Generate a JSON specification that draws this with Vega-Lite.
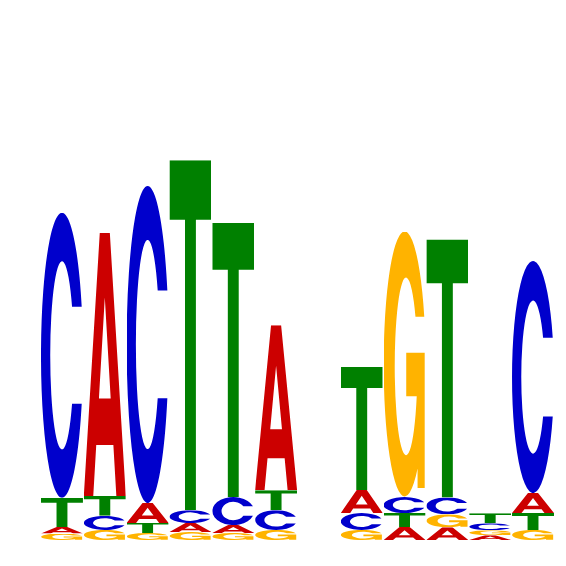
{
  "$schema": "https://vega.github.io/schema/vega-lite/v6.json",
  "width": 566,
  "height": 566,
  "padding": 0,
  "autosize": {"type": "fit", "contains": "padding"},
  "background": "white",
  "config": {"view": {"stroke": null}},
  "data": {
    "values": [
      {"pos": 1, "letter": "C", "bits": 1.5},
      {"pos": 1, "letter": "T", "bits": 0.153},
      {"pos": 1, "letter": "A", "bits": 0.035},
      {"pos": 1, "letter": "G", "bits": 0.034},
      {"pos": 2, "letter": "A", "bits": 1.384},
      {"pos": 2, "letter": "T", "bits": 0.105},
      {"pos": 2, "letter": "C", "bits": 0.074},
      {"pos": 2, "letter": "G", "bits": 0.053},
      {"pos": 3, "letter": "C", "bits": 1.668},
      {"pos": 3, "letter": "A", "bits": 0.105},
      {"pos": 3, "letter": "T", "bits": 0.053},
      {"pos": 3, "letter": "G", "bits": 0.037},
      {"pos": 4, "letter": "T", "bits": 1.842},
      {"pos": 4, "letter": "C", "bits": 0.068},
      {"pos": 4, "letter": "A", "bits": 0.047},
      {"pos": 4, "letter": "G", "bits": 0.042},
      {"pos": 5, "letter": "T", "bits": 1.442},
      {"pos": 5, "letter": "C", "bits": 0.147},
      {"pos": 5, "letter": "A", "bits": 0.042},
      {"pos": 5, "letter": "G", "bits": 0.037},
      {"pos": 6, "letter": "A", "bits": 0.868},
      {"pos": 6, "letter": "T", "bits": 0.105},
      {"pos": 6, "letter": "C", "bits": 0.104},
      {"pos": 6, "letter": "G", "bits": 0.053},
      {"pos": 8, "letter": "T", "bits": 0.647},
      {"pos": 8, "letter": "A", "bits": 0.121},
      {"pos": 8, "letter": "C", "bits": 0.089},
      {"pos": 8, "letter": "G", "bits": 0.053},
      {"pos": 9, "letter": "G", "bits": 1.395},
      {"pos": 9, "letter": "C", "bits": 0.084},
      {"pos": 9, "letter": "T", "bits": 0.074},
      {"pos": 9, "letter": "A", "bits": 0.068},
      {"pos": 10, "letter": "T", "bits": 1.358},
      {"pos": 10, "letter": "C", "bits": 0.089},
      {"pos": 10, "letter": "G", "bits": 0.068},
      {"pos": 10, "letter": "A", "bits": 0.067},
      {"pos": 11, "letter": "T", "bits": 0.053},
      {"pos": 11, "letter": "C", "bits": 0.037},
      {"pos": 11, "letter": "G", "bits": 0.026},
      {"pos": 11, "letter": "A", "bits": 0.025},
      {"pos": 12, "letter": "C", "bits": 1.221},
      {"pos": 12, "letter": "A", "bits": 0.105},
      {"pos": 12, "letter": "T", "bits": 0.089},
      {"pos": 12, "letter": "G", "bits": 0.053}
    ]
  },
  "transform": [
    {"stack": "bits", "groupby": ["pos"], "sort": [{"field": "bits", "order": "ascending"}, {"field": "letter", "order": "ascending"}], "as": ["y0", "y1"]}
  ],
  "encoding": {
    "x": {
      "field": "pos",
      "type": "ordinal",
      "axis": null,
      "scale": {"domain": [1, 2, 3, 4, 5, 6, 7, 8, 9, 10, 11, 12], "range": [41, 554], "paddingInner": 0.02, "paddingOuter": 0}
    },
    "y": {"field": "y0", "type": "quantitative", "axis": null, "scale": {"domain": [0, 2], "range": [540, 160], "zero": false, "nice": false}},
    "y2": {"field": "y1"}
  },
  "layer": [
    {
      "transform": [{"filter": "datum.letter === 'A'"}],
      "mark": {"type": "image", "aspect": false, "url": "data:image/svg+xml,%3Csvg xmlns='http://www.w3.org/2000/svg' viewBox='0 0 100 100' preserveAspectRatio='none'%3E%3Cpath fill='%23CC0000' fill-rule='evenodd' d='M0 100L38 0H62L100 100H77.5L70.4 80.6H29.6L22.5 100ZM36 63H64L50 24.5Z'/%3E%3C/svg%3E"}
    },
    {
      "transform": [{"filter": "datum.letter === 'C'"}],
      "mark": {"type": "image", "aspect": false, "url": "data:image/svg+xml,%3Csvg xmlns='http://www.w3.org/2000/svg' viewBox='0 0 100 100' preserveAspectRatio='none'%3E%3Cpath fill='%230000CC' d='M97 33A50 50 0 1 0 97 67H74A28 33 0 1 1 74 33Z'/%3E%3C/svg%3E"}
    },
    {
      "transform": [{"filter": "datum.letter === 'G'"}],
      "mark": {"type": "image", "aspect": false, "url": "data:image/svg+xml,%3Csvg xmlns='http://www.w3.org/2000/svg' viewBox='0 0 100 100' preserveAspectRatio='none'%3E%3Cpath fill='%23FFB300' d='M97 32A50 50 0 1 0 81 89.2V96.6H98V45.6H54V62H79A27 33.5 0 1 1 76 32Z'/%3E%3C/svg%3E"}
    },
    {
      "transform": [{"filter": "datum.letter === 'T'"}],
      "mark": {"type": "image", "aspect": false, "url": "data:image/svg+xml,%3Csvg xmlns='http://www.w3.org/2000/svg' viewBox='0 0 100 100' preserveAspectRatio='none'%3E%3Cpath fill='%23008000' d='M0 0H100V17H63V100H37V17H0Z'/%3E%3C/svg%3E"}
    }
  ]
}
